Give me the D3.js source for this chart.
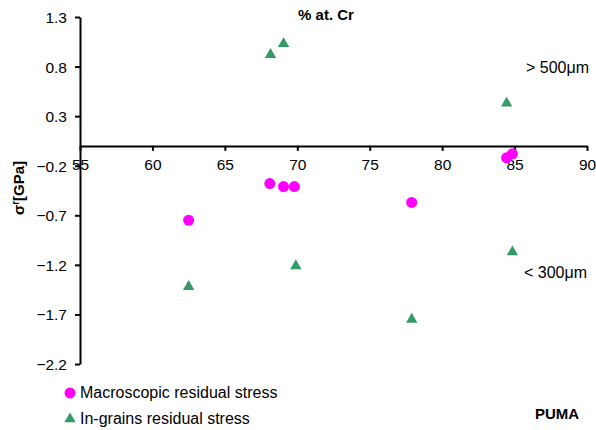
<!DOCTYPE html>
<html>
<head>
<meta charset="utf-8">
<script src="https://cdn.jsdelivr.net/npm/d3@7"></script>
<style>
    body { margin: 0; background: #fff; }
    svg { display: block; font-family: "Liberation Sans", Arial, sans-serif; }
</style>
</head>
<body>
<svg id="chart" width="596" height="430"></svg>
<script>
// % at. Cr vs residual stress (GPa)
const macroCr = [62.5, 68.1, 69.05, 69.8, 77.9, 84.45, 84.85];
const macroStress = [-0.75, -0.38, -0.41, -0.41, -0.57, -0.12, -0.08];

const grainCr = [62.5, 68.15, 69.05, 69.9, 77.9, 84.45, 84.85];
const grainStress = [-1.42, 0.92, 1.03, -1.21, -1.75, 0.43, -1.07];

const xTicks = [55, 60, 65, 70, 75, 80, 85, 90];
const yTicks = [1.3, 0.8, 0.3, -0.2, -0.7, -1.2, -1.7, -2.2];

const seriesNames = ["Macroscopic residual stress", "In-grains residual stress"];

const svg = d3.select("#chart");

const x = d3.scaleLinear().domain([55, 90]).range([80, 587]);
const y = d3.scaleLinear().domain([-2.2, 1.3]).range([364, 17]);

const magenta = "#ff00ff";
const green = "#339966";

// y axis
const yAxis = svg.append("g")
    .attr("transform", `translate(${x(55)},0)`)
    .call(d3.axisLeft(y).tickValues(yTicks).tickFormat(d3.format(".1f"))
        .tickSize(5).tickSizeOuter(0).tickPadding(8));

// x axis, crossing at 0
const xAxis = svg.append("g")
    .attr("transform", `translate(0,${y(0)})`)
    .call(d3.axisBottom(x).tickValues(xTicks).tickFormat(d3.format("d"))
        .tickSize(5).tickSizeOuter(0).tickPadding(8));

[xAxis, yAxis].forEach(g => {
    g.selectAll("path, line").attr("stroke", "#000").attr("stroke-width", 2);
    g.selectAll("text")
        .attr("fill", "#000")
        .style("font-size", "15.5px")
        .style("font-family", "'Liberation Sans', Arial, sans-serif");
});
yAxis.selectAll("text").attr("dy", "0.35em");

const circle = d3.symbol().type(d3.symbolCircle).size(95);
const tri = d3.symbol().type(d3.symbolTriangle).size(56);

svg.append("g").selectAll("path")
    .data(macroCr.map((c, i) => [c, macroStress[i]]))
    .join("path")
    .attr("d", circle)
    .attr("transform", d => `translate(${x(d[0])},${y(d[1])})`)
    .attr("fill", magenta);

svg.append("g").selectAll("path")
    .data(grainCr.map((c, i) => [c, grainStress[i]]))
    .join("path")
    .attr("d", tri)
    .attr("transform", d => `translate(${x(d[0])},${y(d[1])})`)
    .attr("fill", green);

// titles
svg.append("text")
    .attr("x", 326).attr("y", 20)
    .attr("text-anchor", "middle")
    .style("font-size", "15px").style("font-weight", "bold")
    .text("% at. Cr");

const yl = svg.append("text")
    .attr("transform", "translate(24,188) rotate(-90)")
    .attr("text-anchor", "middle")
    .style("font-size", "15px").style("font-weight", "bold");
yl.append("tspan").text("σ");
yl.append("tspan").attr("dy", -5).style("font-size", "10px").text("r");
yl.append("tspan").attr("dy", 5).text("[GPa]");

svg.append("text").attr("x", 526).attr("y", 73)
    .style("font-size", "16px").text("> 500μm");
svg.append("text").attr("x", 524).attr("y", 278)
    .style("font-size", "16px").text("< 300μm");

svg.append("text").attr("x", 535).attr("y", 419)
    .style("font-size", "15px").style("font-weight", "bold").text("PUMA");

// legend
const legend = svg.append("g").attr("transform", "translate(70,0)");
const legendRows = [
    { name: seriesNames[0], sym: circle, color: magenta, y: 393 },
    { name: seriesNames[1], sym: tri, color: green, y: 419 }
];
legendRows.forEach(r => {
    legend.append("path")
        .attr("d", r.sym)
        .attr("transform", `translate(0,${r.y})`)
        .attr("fill", r.color);
    legend.append("text")
        .attr("x", 10).attr("y", r.y + 5)
        .style("font-size", "16px")
        .text(r.name);
});
</script>
</body>
</html>
